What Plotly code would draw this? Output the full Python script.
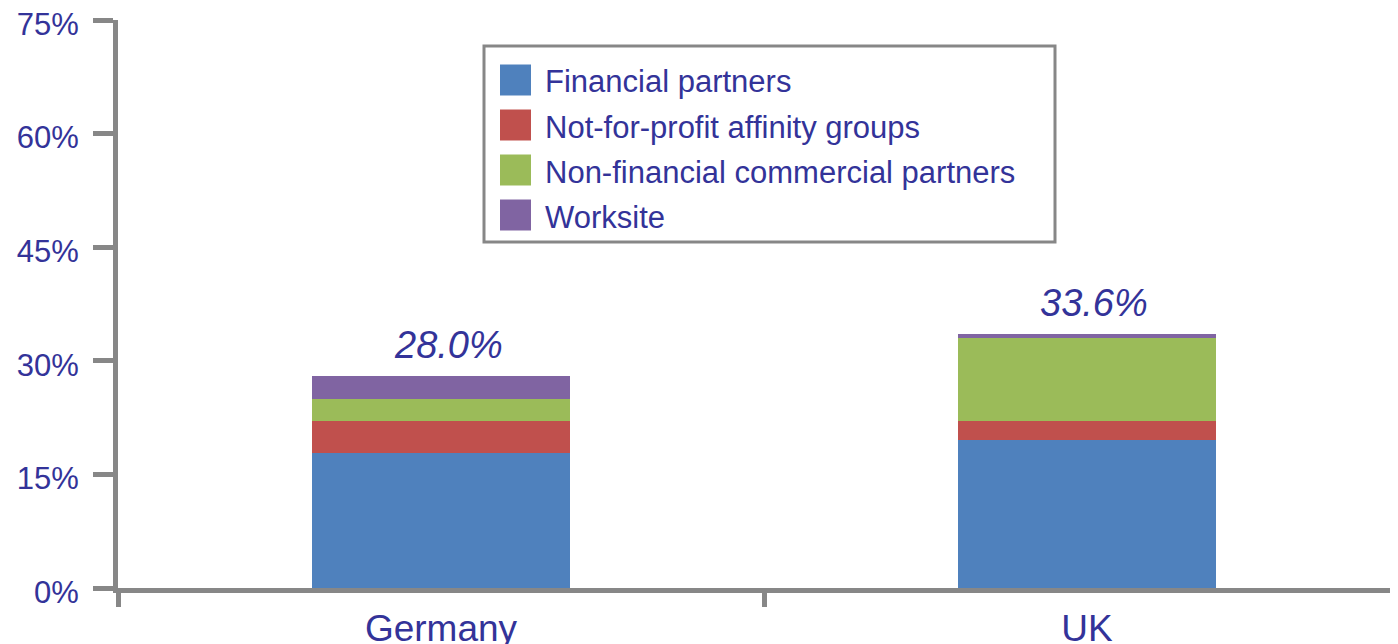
import plotly.graph_objects as go

# ================================
# Dados
# ================================
paises = ['Germany', 'UK']
financial = [17.8, 19.6]
not_for_profit = [4.2, 2.4]
non_financial = [2.9, 11.0]
worksite = [3.1, 0.6]
totais = [28.0, 33.6]
rotulos = ['28.0%', '33.6%']

series = ['Financial partners', 'Not-for-profit affinity groups',
          'Non-financial commercial partners', 'Worksite']
valores = [financial, not_for_profit, non_financial, worksite]
cores = ['#4F81BD', '#C0504D', '#9BBB59', '#8064A2']

AZUL = '#333399'
CINZA = '#878787'
FONTE = 'Liberation Sans, Arial, sans-serif'

# ================================
# Layout (pixels da tela -> coordenadas paper)
# ================================
OFF = 8  # margem padrão do body no html
ML, MT, MB, W, H = 110, 12, 64, 1398, 644
PW, PH = W - ML, H - MT - MB

def px(x):
    return (x - OFF - ML) / PW

def py(y):
    return (H - MB - (y - OFF)) / PH

# ================================
# Figura
# ================================
fig = go.Figure()
for nome, vals, cor in zip(series, valores, cores):
    fig.add_trace(go.Bar(x=paises, y=vals, name=nome, marker_color=cor,
                         marker_line_width=0, width=0.4, showlegend=False))

for pais, tot, rot in zip(paises, totais, rotulos):
    fig.add_annotation(x=pais, y=tot, text='<i>%s</i>' % rot, showarrow=False,
                       yanchor='bottom', yshift=8, xshift=7,
                       font=dict(family=FONTE, size=38, color=AZUL))

# legenda manual (quadrados grandes como no original)
fig.add_shape(type='rect', xref='paper', yref='paper',
              x0=px(484), x1=px(1055), y0=py(242), y1=py(46),
              line=dict(color=CINZA, width=3), fillcolor='white', layer='below')
for i, (nome, cor) in enumerate(zip(series, cores)):
    yc = 80 + i * 45
    fig.add_shape(type='rect', xref='paper', yref='paper',
                  x0=px(500), x1=px(531), y0=py(yc + 15.5), y1=py(yc - 15.5),
                  fillcolor=cor, line_width=0)
    fig.add_annotation(x=px(543), y=py(yc + 2), xref='paper', yref='paper',
                       text=nome, showarrow=False, xanchor='left', yanchor='middle',
                       font=dict(family=FONTE, size=31, color=AZUL))

fig.update_layout(
    barmode='stack',
    width=W, height=H,
    margin=dict(l=ML, r=0, t=MT, b=MB),
    plot_bgcolor='white', paper_bgcolor='white',
    font=dict(family=FONTE, color=AZUL),
)
fig.update_xaxes(range=[-0.5, -0.5 + PW / 646], showline=True, linecolor=CINZA,
                 linewidth=5, ticks='outside', tickson='boundaries', ticklen=14,
                 tickwidth=5, tickcolor=CINZA, showgrid=False, ticklabelstandoff=4,
                 automargin=False,
                 tickfont=dict(family=FONTE, size=37, color=AZUL))
fig.update_yaxes(range=[0, 75], dtick=15, ticksuffix='%', showline=True,
                 linecolor=CINZA, linewidth=5, ticks='outside', ticklen=20,
                 tickwidth=5, tickcolor=CINZA, showgrid=False, zeroline=False,
                 ticklabelstandoff=8, ticklabelshift=4, ticklabeloverflow='allow',
                 automargin=False,
                 tickfont=dict(family=FONTE, size=31, color=AZUL))

fig.write_html("out.html")
